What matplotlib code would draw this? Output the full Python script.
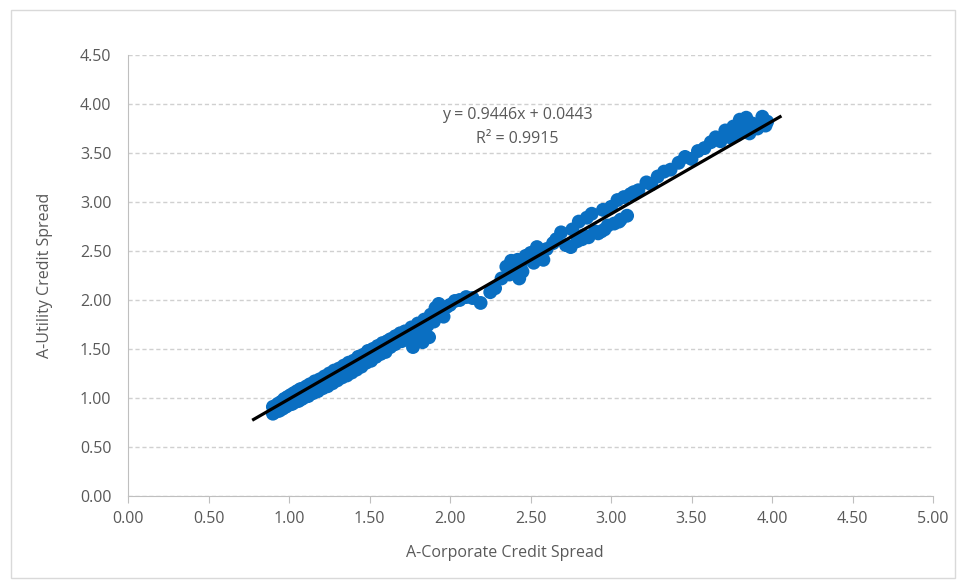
import numpy as np
import matplotlib.pyplot as plt
from matplotlib.patches import Rectangle

# A-Corporate vs A-Utility credit spreads
corp_spread = [
    # dense low end
    0.90, 0.90, 0.92, 0.93, 0.94, 0.95, 0.96, 0.97, 0.98, 0.99, 1.00, 1.01,
    1.02, 1.03, 1.04, 1.05, 1.06, 1.07, 1.08, 1.09, 1.10, 1.11, 1.12, 1.13,
    1.15, 1.16, 1.18, 1.19, 1.21, 1.22, 1.24, 1.25, 1.27, 1.28, 1.30, 1.31,
    1.33, 1.34, 1.36, 1.37, 1.39, 1.40, 1.42, 1.43, 1.45, 1.46, 1.48, 1.49,
    1.51, 1.52, 1.54, 1.55, 1.57, 1.58, 1.60, 1.61,
    1.00, 1.05, 1.10, 1.15, 1.20, 1.25, 1.30, 1.35, 1.40, 1.45, 1.50, 1.55,
    # middle band
    1.63, 1.63, 1.66, 1.66, 1.69, 1.70, 1.72, 1.74, 1.76, 1.77, 1.78, 1.80,
    1.82, 1.83, 1.84, 1.86, 1.87, 1.88, 1.90, 1.91, 1.93, 1.95, 1.96, 1.98,
    1.68, 1.73, 1.79, 1.85, 1.89, 1.94,
    2.00, 2.03, 2.06, 2.10, 2.14, 2.19, 2.25, 2.28, 2.32,
    # clusters around 2.4 - 2.6
    2.35, 2.37, 2.38, 2.40, 2.42, 2.43, 2.44, 2.45, 2.47, 2.50, 2.52, 2.54,
    2.55, 2.58, 2.60,
    # 2.6 - 3.15
    2.64, 2.66, 2.69, 2.72, 2.75, 2.76, 2.79, 2.80, 2.83, 2.85, 2.86, 2.88,
    2.90, 2.92, 2.95, 2.96, 2.98, 3.00, 3.02, 3.04, 3.06, 3.08, 3.10, 3.12,
    3.14, 3.17, 2.82, 2.94, 3.05,
    # top end
    3.22, 3.25, 3.29, 3.33, 3.37, 3.42, 3.46, 3.50, 3.54, 3.58, 3.62, 3.65,
    3.68, 3.71, 3.74, 3.76, 3.78, 3.80, 3.82, 3.84, 3.86, 3.88, 3.91, 3.94,
    3.96, 3.97,
]
util_spread = [
    0.84, 0.91, 0.86, 0.94, 0.87, 0.96, 0.89, 0.99, 0.91, 1.01, 0.93, 1.03,
    0.94, 1.05, 0.96, 1.07, 0.97, 1.09, 0.99, 1.10, 1.01, 1.12, 1.02, 1.14,
    1.05, 1.17, 1.07, 1.19, 1.10, 1.22, 1.12, 1.25, 1.15, 1.28, 1.18, 1.30,
    1.21, 1.33, 1.23, 1.36, 1.26, 1.38, 1.29, 1.42, 1.32, 1.44, 1.36, 1.48,
    1.38, 1.50, 1.42, 1.53, 1.45, 1.56, 1.47, 1.58,
    0.96, 1.01, 1.06, 1.10, 1.15, 1.20, 1.24, 1.29, 1.34, 1.38, 1.43, 1.48,
    1.60, 1.52, 1.63, 1.55, 1.66, 1.58, 1.68, 1.62, 1.72, 1.52, 1.65, 1.76,
    1.70, 1.57, 1.80, 1.74, 1.62, 1.85, 1.78, 1.92, 1.96, 1.88, 1.83, 1.93,
    1.60, 1.65, 1.70, 1.76, 1.84, 1.90,
    1.95, 1.99, 2.00, 2.03, 2.02, 1.97, 2.08, 2.12, 2.22,
    2.34, 2.26, 2.40, 2.30, 2.41, 2.22, 2.36, 2.29, 2.45, 2.48, 2.38, 2.54,
    2.44, 2.41, 2.52,
    2.58, 2.62, 2.69, 2.56, 2.54, 2.72, 2.60, 2.80, 2.66, 2.84, 2.64, 2.88,
    2.70, 2.68, 2.92, 2.72, 2.76, 2.95, 2.78, 3.02, 2.82, 3.05, 2.86, 3.08,
    3.10, 3.12, 2.62, 2.70, 2.80,
    3.20, 3.18, 3.26, 3.31, 3.33, 3.40, 3.46, 3.44, 3.52, 3.55, 3.61, 3.66,
    3.62, 3.73, 3.66, 3.77, 3.68, 3.84, 3.74, 3.86, 3.70, 3.80, 3.75, 3.87,
    3.78, 3.82,
]

slope, intercept = 0.9446, 0.0443
r_squared = 0.9915
trend_x = [0.78, 4.05]

x_ticks = [0.0, 0.5, 1.0, 1.5, 2.0, 2.5, 3.0, 3.5, 4.0, 4.5, 5.0]
y_ticks = [0.0, 0.5, 1.0, 1.5, 2.0, 2.5, 3.0, 3.5, 4.0, 4.5]

plt.rcParams['font.family'] = ['Open Sans', 'DejaVu Sans']
text_grey = '#595959'

fig = plt.figure(figsize=(9.58, 5.80), dpi=100)
ax = fig.add_axes([128 / 958, 1 - 496 / 580, (933 - 128) / 958, (496 - 55) / 580])

ax.scatter(corp_spread, util_spread, s=100, color='#0A6FC2', edgecolors='none', zorder=2)

tx = np.array(trend_x)
ax.plot(tx, slope * tx + intercept, color='black', lw=2.3, zorder=3)

ax.text(2.42, 3.89, f'y = {slope}x + {intercept}', ha='center', va='center',
        fontsize=11.5, color=text_grey)
ax.text(2.42, 3.64, f'R² = {r_squared}', ha='center', va='center',
        fontsize=11.5, color=text_grey)

ax.set_xlim(0, 5)
ax.set_ylim(0, 4.5)
ax.set_xticks(x_ticks)
ax.set_yticks(y_ticks)
ax.set_xticklabels([f'{v:.2f}' for v in x_ticks])
ax.set_yticklabels([f'{v:.2f}' for v in y_ticks])
ax.tick_params(axis='x', length=5, color='#BFBFBF', labelsize=11.5, labelcolor=text_grey, pad=6)
ax.tick_params(axis='y', length=0, labelsize=11.5, labelcolor=text_grey, pad=12)

ax.grid(axis='y', color='#D0D0D0', linestyle='--', linewidth=1, dashes=(3, 2))
ax.set_axisbelow(True)
for side in ['top', 'right']:
    ax.spines[side].set_visible(False)
for side in ['left', 'bottom']:
    ax.spines[side].set_color('#BFBFBF')

fig.text(505 / 958, 1 - 553 / 580, 'A-Corporate Credit Spread', ha='center', va='center',
         fontsize=11.5, color=text_grey)
fig.text(45 / 958, 1 - 275 / 580, 'A-Utility Credit Spread', ha='center', va='center',
         rotation=90, fontsize=11.5, color=text_grey)

fig.patches.append(Rectangle((11 / 958, 2 / 580), 944 / 958, 568 / 580,
                             transform=fig.transFigure, fill=False,
                             edgecolor='#D9D9D9', linewidth=1))

fig.savefig('out.png', dpi=100)
